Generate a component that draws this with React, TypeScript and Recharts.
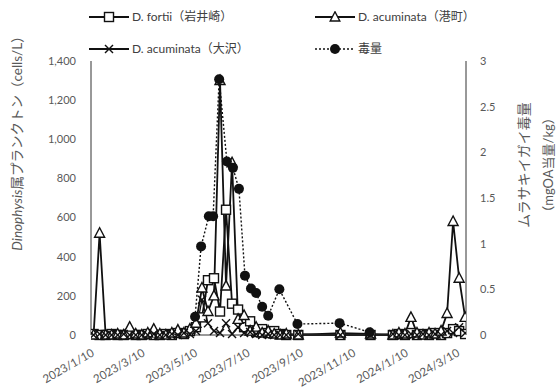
import React from "react";
import { LineChart, Line, XAxis, YAxis } from "recharts";

// sampling dates (plankton, all three sites)
const sampleDates = [
  "2023/1/13", "2023/1/20", "2023/1/27", "2023/2/3", "2023/2/10", "2023/2/17", "2023/2/24",
  "2023/3/3", "2023/3/10", "2023/3/17", "2023/3/24", "2023/3/31", "2023/4/7", "2023/4/14",
  "2023/4/21", "2023/4/28", "2023/5/5", "2023/5/12", "2023/5/19", "2023/5/26", "2023/6/2",
  "2023/6/9", "2023/6/16", "2023/6/23", "2023/6/30", "2023/7/7", "2023/7/14", "2023/7/21",
  "2023/7/28", "2023/8/4", "2023/8/11", "2023/8/18", "2023/8/25", "2023/9/8", "2023/10/27",
  "2023/12/1", "2023/12/27", "2024/1/3", "2024/1/10", "2024/1/17", "2024/1/24", "2024/1/31",
  "2024/2/7", "2024/2/14", "2024/2/21", "2024/2/28", "2024/3/6", "2024/3/13", "2024/3/20",
];

// D. fortii (岩井崎) cells/L
const fortii = [
  5, 0, 0, 5, 0, 0, 5, 0, 0, 5, 0, 0, 5, 0, 10, 5, 20, 40, 90, 280, 290, 120, 640, 160,
  130, 40, 70, 15, 30, 10, 20, 5, 0, 0, 0, 0, 0, 5, 0, 10, 0, 5, 0, 10, 0, 10, 30, 20, 5,
];

// D. acuminata (港町) cells/L
const minato = [
  0, 520, 0, 0, 5, 0, 40, 5, 0, 10, 30, 5, 0, 10, 25, 10, 30, 60, 240, 120, 200, 1300, 250, 880,
  80, 100, 20, 40, 10, 20, 5, 0, 5, 0, 10, 5, 0, 10, 5, 90, 10, 0, 10, 5, 20, 110, 580, 290, 90,
];

// D. acuminata (大沢) cells/L
const osawa = [
  0, 5, 0, 0, 0, 5, 0, 0, 0, 0, 5, 0, 0, 5, 0, 10, 5, 20, 180, 60, 20, 10, 60, 5,
  40, 10, 15, 5, 0, 5, 0, 0, 0, 5, 0, 0, 5, 0, 0, 5, 0, 5, 0, 5, 0, 20, 10, 40, 10,
];

// 毒量 (mgOA当量/kg)
const toxinDates = [
  "2023/5/11", "2023/5/18", "2023/5/27", "2023/6/1", "2023/6/8", "2023/6/17", "2023/6/24",
  "2023/7/1", "2023/7/8", "2023/7/15", "2023/7/21", "2023/7/28", "2023/8/4", "2023/8/17",
  "2023/9/7", "2023/10/26", "2023/11/30",
];
const toxin = [0.2, 0.97, 1.3, 1.3, 2.8, 1.9, 1.83, 1.6, 0.65, 0.51, 0.46, 0.31, 0.21, 0.5, 0.12, 0.13, 0.03];

const tickDates = [
  "2023/1/10", "2023/3/10", "2023/5/10", "2023/7/10", "2023/9/10", "2023/11/10", "2024/1/10", "2024/3/10",
];
const leftTicks = [0, 200, 400, 600, 800, 1000, 1200, 1400];
const rightTicks = [0, 0.5, 1, 1.5, 2, 2.5, 3];

const toDay = (s: string) => {
  const [y, m, d] = s.split("/").map(Number);
  return Date.UTC(y, m - 1, d) / 86400000;
};
const dayLabel = (v: number) => {
  const dt = new Date(v * 86400000);
  return `${dt.getUTCFullYear()}/${dt.getUTCMonth() + 1}/${dt.getUTCDate()}`;
};

const planktonRows = sampleDates.map((d, i) => ({
  t: toDay(d),
  fortii: fortii[i],
  minato: minato[i],
  osawa: osawa[i],
}));
const toxinRows = toxinDates.map((d, i) => ({ t: toDay(d), toxin: toxin[i] }));

const FONT = "Lato, 'Noto Sans CJK JP', sans-serif";
const INK = "#111";

const SquareDot = (p: any) => {
  if (p.cx == null || p.cy == null) return <g key={`s${p.index}`} />;
  return (
    <rect key={`s${p.index}`} x={p.cx - 4.5} y={p.cy - 4.5} width={9} height={9}
      fill="#fff" stroke={INK} strokeWidth={1.4} />
  );
};
const TriDot = (p: any) => {
  if (p.cx == null || p.cy == null) return <g key={`t${p.index}`} />;
  const { cx, cy } = p;
  return (
    <polygon key={`t${p.index}`} points={`${cx},${cy - 5.5} ${cx - 5},${cy + 4} ${cx + 5},${cy + 4}`}
      fill="#fff" stroke={INK} strokeWidth={1.4} />
  );
};
const XDot = (p: any) => {
  if (p.cx == null || p.cy == null) return <g key={`x${p.index}`} />;
  const { cx, cy } = p;
  return (
    <g key={`x${p.index}`} stroke={INK} strokeWidth={1.4}>
      <line x1={cx - 4} y1={cy - 4} x2={cx + 4} y2={cy + 4} />
      <line x1={cx - 4} y1={cy + 4} x2={cx + 4} y2={cy - 4} />
    </g>
  );
};
const CircleDot = (p: any) => {
  if (p.cx == null || p.cy == null) return <g key={`c${p.index}`} />;
  return <circle key={`c${p.index}`} cx={p.cx} cy={p.cy} r={5} fill={INK} />;
};

const LegendIcon = ({ kind }: { kind: string }) => (
  <svg width={42} height={12} style={{ display: "block" }}>
    <line x1={1} y1={6} x2={41} y2={6} stroke={INK} strokeWidth={kind === "dot" ? 1.4 : 1.8}
      strokeDasharray={kind === "dot" ? "2 2" : undefined} />
    {kind === "square" && <rect x={16.5} y={1.5} width={9} height={9} fill="#fff" stroke={INK} strokeWidth={1.4} />}
    {kind === "tri" && <polygon points="21,0.8 16.2,10 25.8,10" fill="#fff" stroke={INK} strokeWidth={1.4} />}
    {kind === "x" && (
      <g stroke={INK} strokeWidth={1.4}>
        <line x1={17} y1={2} x2={25} y2={10} />
        <line x1={17} y1={10} x2={25} y2={2} />
      </g>
    )}
    {kind === "dot" && <circle cx={21} cy={6} r={5} fill={INK} />}
  </svg>
);

const legendItems = [
  { kind: "square", label: "D. fortii（岩井崎）", left: 88, top: 10 },
  { kind: "tri", label: "D. acuminata（港町）", left: 314, top: 10 },
  { kind: "x", label: "D. acuminata（大沢）", left: 88, top: 42 },
  { kind: "dot", label: "毒量", left: 314, top: 42 },
];

export default function App() {
  const start = toDay("2023/1/10");
  const end = toDay("2024/3/21");
  return (
    <div style={{ position: "absolute", left: 0, top: 0, width: 559, height: 391, background: "#fff", fontFamily: FONT }}>
      <LineChart width={559} height={391} data={planktonRows} margin={{ top: 61, right: 0, bottom: 0, left: 0 }}>
        <XAxis
          type="number"
          dataKey="t"
          domain={[start, end]}
          allowDataOverflow
          ticks={tickDates.map(toDay)}
          tickFormatter={dayLabel}
          height={56}
          angle={-30}
          textAnchor="end"
          tickSize={0}
          tickMargin={13}
          tick={{ fontSize: 11.5, fill: "#595959", fontFamily: FONT }}
          axisLine={{ stroke: "#333" }}
          interval={0}
        />
        <YAxis
          yAxisId="left"
          domain={[0, 1400]}
          ticks={leftTicks}
          width={91}
          tickSize={0}
          tickMargin={15}
          tickFormatter={(v: number) => v.toLocaleString("en-US")}
          tick={{ fontSize: 11, fill: "#595959", fontFamily: FONT }}
          axisLine={{ stroke: "#333" }}
        />
        <YAxis
          yAxisId="right"
          orientation="right"
          domain={[0, 3]}
          ticks={rightTicks}
          width={93}
          tickSize={0}
          tickMargin={14}
          tick={{ fontSize: 11, fill: "#595959", fontFamily: FONT }}
          axisLine={{ stroke: "#333" }}
        />
        <Line yAxisId="left" dataKey="fortii" stroke={INK} strokeWidth={1.8} dot={SquareDot} isAnimationActive={false} />
        <Line yAxisId="left" dataKey="minato" stroke={INK} strokeWidth={1.8} dot={TriDot} isAnimationActive={false} />
        <Line yAxisId="left" dataKey="osawa" stroke={INK} strokeWidth={1.3} dot={XDot} isAnimationActive={false} />
        <Line yAxisId="right" data={toxinRows} dataKey="toxin" stroke={INK} strokeWidth={1.4}
          strokeDasharray="2 2" dot={CircleDot} isAnimationActive={false} />
      </LineChart>

      <svg width={559} height={391} style={{ position: "absolute", left: 0, top: 0, pointerEvents: "none" }}>
        <text transform="translate(17,140) rotate(-90)" textAnchor="middle" dominantBaseline="central"
          fontSize={13.5} fill="#595959" fontFamily={FONT}>
          <tspan fontStyle="italic">Dinophysis</tspan>属プランクトン（cells/L）
        </text>
        <text transform="translate(523,165) rotate(-90)" textAnchor="middle" dominantBaseline="central"
          fontSize={14} fill="#595959" fontFamily={FONT}>
          ムラサキイガイ毒量
        </text>
        <text transform="translate(548,165) rotate(-90)" textAnchor="middle" dominantBaseline="central"
          fontSize={13} fill="#595959" fontFamily={FONT}>
          （mgOA当量/kg）
        </text>
      </svg>

      {legendItems.map((it) => (
        <div key={it.label} style={{ position: "absolute", left: it.left, top: it.top, display: "flex", alignItems: "center", gap: 2, fontSize: 12, color: "#404040", whiteSpace: "nowrap", lineHeight: "14px" }}>
          <LegendIcon kind={it.kind} />
          <span>{it.label}</span>
        </div>
      ))}
    </div>
  );
}
